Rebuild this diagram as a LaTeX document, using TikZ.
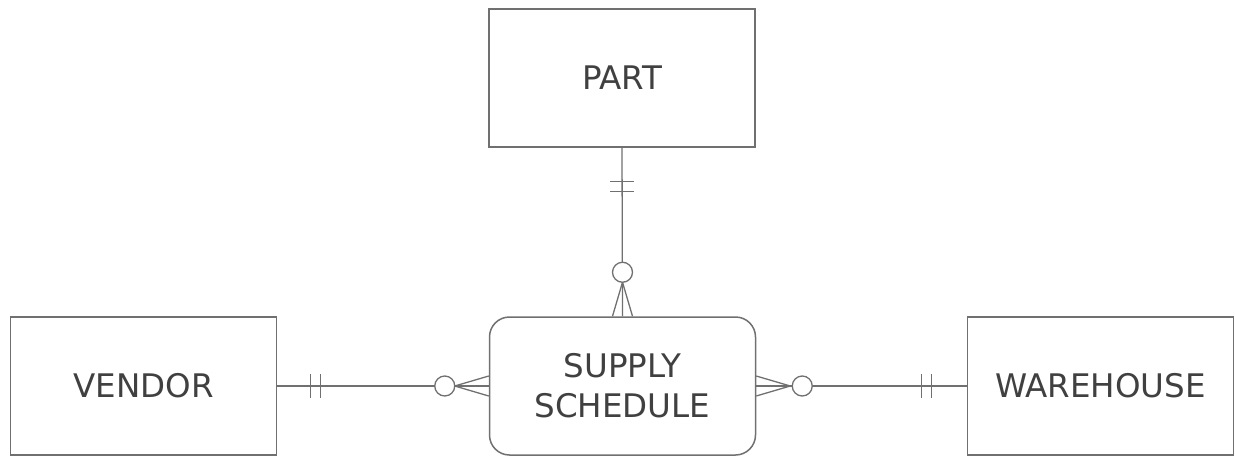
\documentclass[tikz,border=0pt]{standalone}
\usepackage{fontspec}
\setmainfont{DejaVu Sans}
\usetikzlibrary{calc}
\definecolor{erline}{RGB}{112,112,112}
\definecolor{ertext}{RGB}{64,64,64}
\tikzset{
  entity/.style={draw=erline, line width=1.5pt, minimum width=266pt, minimum height=138pt,
    inner sep=0pt, text=ertext, font=\fontsize{32.5}{40}\selectfont, align=center},
  assoc/.style={entity, rounded corners=20pt},
  rel/.style={draw=erline, line width=1.3pt},
}
\begin{document}
\begin{tikzpicture}[x=1pt, y=-1pt]
  \useasboundingbox (0,0) rectangle (1235,456);
  \node[entity] (part) at (622,78) {PART};
  \node[entity] (vendor) at (143.5,386) {VENDOR};
  \node[assoc] (sched) at (622.5,386) {SUPPLY\\SCHEDULE};
  \node[entity] (house) at (1100.5,386) {WAREHOUSE};
  % part -- schedule
  \draw[rel] (part.south) -- (sched.north);
  \draw[rel] ($(part.south)+(-12,34)$) -- ($(part.south)+(12,34)$);
  \draw[rel] ($(part.south)+(-12,44)$) -- ($(part.south)+(12,44)$);
  \draw[rel] ($(sched.north)+(0,-34)$) -- ($(sched.north)+(-10,0)$);
  \draw[rel] ($(sched.north)+(0,-34)$) -- ($(sched.north)+(10,0)$);
  \draw[rel, fill=white] ($(sched.north)+(0,-44)$) circle (10);
  % vendor -- schedule
  \draw[rel] (vendor.east) -- (sched.west);
  \draw[rel] ($(vendor.east)+(33,-12)$) -- ($(vendor.east)+(33,12)$);
  \draw[rel] ($(vendor.east)+(43,-12)$) -- ($(vendor.east)+(43,12)$);
  \draw[rel] ($(sched.west)+(-34,0)$) -- ($(sched.west)+(0,-10)$);
  \draw[rel] ($(sched.west)+(-34,0)$) -- ($(sched.west)+(0,10)$);
  \draw[rel, fill=white] ($(sched.west)+(-44,0)$) circle (10);
  % schedule -- warehouse
  \draw[rel] (sched.east) -- (house.west);
  \draw[rel] ($(house.west)+(-45,-12)$) -- ($(house.west)+(-45,12)$);
  \draw[rel] ($(house.west)+(-35,-12)$) -- ($(house.west)+(-35,12)$);
  \draw[rel] ($(sched.east)+(34,0)$) -- ($(sched.east)+(0,-10)$);
  \draw[rel] ($(sched.east)+(34,0)$) -- ($(sched.east)+(0,10)$);
  \draw[rel, fill=white] ($(sched.east)+(46,0)$) circle (10);
\end{tikzpicture}
\end{document}
